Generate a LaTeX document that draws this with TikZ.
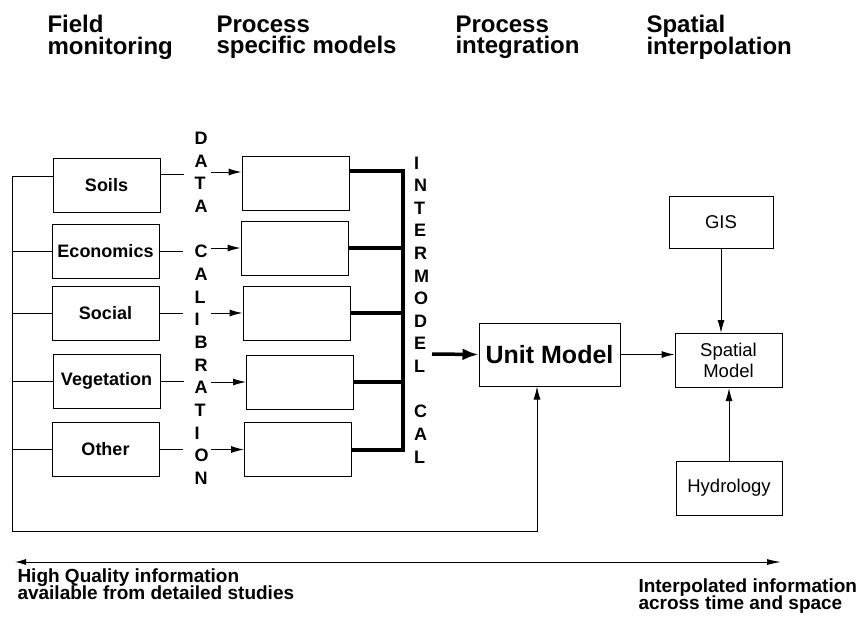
\documentclass[tikz,border=0pt]{standalone}
\usepackage{fontspec}
\setmainfont{Liberation Sans}
\usetikzlibrary{arrows.meta}
\setlength{\lineskiplimit}{-100pt}

\begin{document}
\begin{tikzpicture}[x=1pt, y=-1pt, line width=1pt,
        box/.style={draw, minimum width=107pt, minimum height=54pt, inner sep=0pt},
        lbl/.style={font=\fontsize{18}{20}\selectfont\bfseries},
        plain/.style={font=\fontsize{18.5}{21}\selectfont},
        vletter/.style={font=\fontsize{18}{18}\selectfont\bfseries, anchor=west, inner sep=0pt},
        head/.style={font=\fontsize{24}{21.5}\selectfont\bfseries, align=left, anchor=north west, inner sep=0pt},
        foot/.style={font=\fontsize{19}{17}\selectfont\bfseries, align=left, anchor=north west, inner sep=0pt},
        arr/.style={-{Latex[length=13pt, width=7pt]}},
        bus/.style={line width=4pt}]
        \useasboundingbox (0,0) rectangle (861,616);

        \node[head] (h1) at (47,15) {Field\\monitoring};
        \node[head] (h2) at (216,15) {Process\\specific models};
        \node[head] (h3) at (455,15) {Process\\integration};
        \node[head] (h4) at (646,15) {Spatial\\interpolation};

        \node[box, lbl] (soils) at (106.5,185) {Soils};
        \node[box, lbl] (econ) at (105.5,251) {Economics};
        \node[box, lbl] (social) at (105.5,313.5) {Social};
        \node[box, lbl] (veg) at (106.5,381) {Vegetation};
        \node[box, lbl] (other) at (105.5,449) {Other};

        \node[box] (m1) at (295.5,183) {};
        \node[box] (m2) at (294.5,248) {};
        \node[box] (m3) at (296.5,313) {};
        \node[box] (m4) at (300,382) {};
        \node[box] (m5) at (298,449.5) {};

        \node[box, minimum width=141pt, minimum height=63pt, font=\fontsize{25}{25}\selectfont\bfseries] (unit) at (549.5,354.5) {Unit Model};
        \node[box, plain, align=center] (spatial) at (728.5,360.5) {Spatial\\Model};
        \node[box, plain, minimum width=104pt, minimum height=52pt] (gis) at (721,222) {GIS};
        \node[box, plain, minimum width=106pt] (hydro) at (729,488) {Hydrology};

        \foreach \ch [count=\i] in {D,A,T,A,{},C,A,L,I,B,R,A,T,I,O,N}
                \node[vletter] (dc\i) at (194,{138.3+22.67*(\i-1)}) {\ch};
        \foreach \ch [count=\i] in {I,N,T,E,R,M,O,D,E,L,{},C,A,L}
                \node[vletter] (im\i) at (413.5,{163+22.6*(\i-1)}) {\ch};

        \coordinate (dtip) at (211,0);
        \coordinate (bus) at (403,0);
        \coordinate (busout) at (432,354);
        \coordinate (fb) at (12,531);
        \coordinate (fbup) at (537,531);
        \coordinate (axl) at (15,562);
        \coordinate (axr) at (781,562);

        \foreach \a/\b/\s in {soils/m1/11, econ/m2/0, social/m3/0, veg/m4/0, other/m5/0} {
                \draw ([yshift=\s pt]\a.east) -- ++(23,0);
                \draw[arr] ([yshift=\s pt]\b.west -| dtip) -- ([yshift=\s pt]\b.west);
        }

        \draw[bus] ([yshift=12pt]m1.east) -| (bus |- m5.east) -- (m5.east);
        \foreach \n in {m2,m3,m4}
                \draw[bus] (\n.east) -- (bus |- \n.east);
        \draw[line width=3.5pt, -{Latex[length=16pt, width=12pt]}] (busout) -- (unit.west);

        \draw[arr] (unit.east) -- (unit.east -| spatial.west);
        \draw[arr] (gis.south) -- (gis.south |- spatial.north);
        \draw[arr] (hydro.north) -- (hydro.north |- spatial.south);

        \draw[arr] ([yshift=9pt]soils.west) -| (fb) -- (fbup) -- (fbup |- unit.south);
        \foreach \a in {econ,social,veg,other}
                \draw (\a.west) -- (\a.west -| fb);

        \draw[{Latex[length=11pt, width=6pt]}-{Latex[length=14pt, width=6pt]}] (axl) -- (axr);

        \node[foot] (hq) at (17,568.5) {High Quality information\\available from detailed studies};
        \node[foot] (ip) at (638,578.5) {Interpolated information\\across time and space};
\end{tikzpicture}
\end{document}
